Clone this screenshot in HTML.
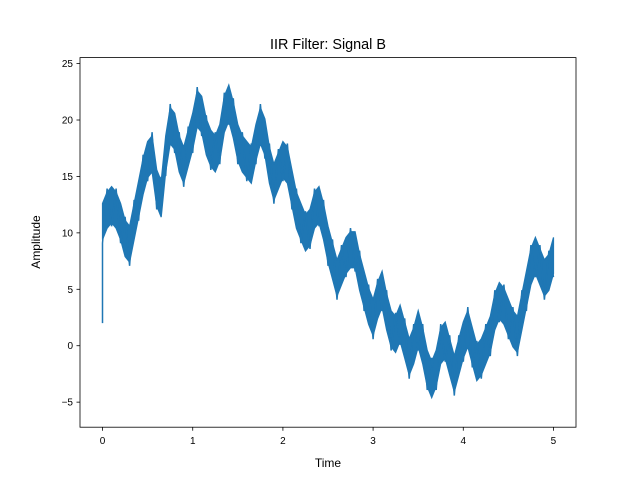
<!DOCTYPE html>
<html><head><meta charset="utf-8"><style>
body{margin:0;background:#fff}
svg{display:block;font-family:"Liberation Sans","DejaVu Sans",sans-serif}
</style></head><body>
<svg id="chart" width="640" height="480" viewBox="0 0 640 480">
<rect width="640" height="480" fill="#fff"/>
<text x="328" y="49" text-anchor="middle" font-size="14.4">IIR Filter: Signal B</text>
<g id="plot"></g>
<rect x="80" y="57.6" width="496" height="369.6" fill="none" stroke="#000" stroke-width="0.8"/>
<text x="328" y="467" text-anchor="middle" font-size="12">Time</text>
<text transform="translate(40,242) rotate(-90)" text-anchor="middle" font-size="12">Amplitude</text>
</svg>
<script>
const times = [];
const startValue = 2;
const values = [11,12,12.5,12,11,9.5,9,11,13,15,16.5,17,14,13,17,19.5,19,17,16,17.5,19,21,20.5,18.5,17.5,17,18,20.5,21.5,20,18,17,16.5,16,18,19.5,18.5,16,14.5,15.5,16.5,16,14,12,11,10,10.5,12,12.5,11,9,7.5,6,7,8,8.5,8.5,6.5,5,3.5,2.5,4,5,3,1.5,1,2,0.5,-1,0,1.5,0,-2,-3,-2,0,0.5,-1,-2.5,-1,0.5,1.5,0,-1.5,-1,0,1,3,4,3.5,2.5,1.5,1,3,5,7,8,7,6,6.5,8];
for (let i = 0; i < values.length; i++) times.push(i * 0.05);
const bandHalf = 1.6;
const xTicks = [0,1,2,3,4,5];
const yTicks = [-5,0,5,10,15,20,25];

const L=80,R=576,T=57.6,B=427.2;
const xMin=-0.25,xMax=5.25,yMin=-7.22,yMax=25.53;
const X=t=>L+(t-xMin)/(xMax-xMin)*(R-L);
const Y=v=>B-(v-yMin)/(yMax-yMin)*(B-T);
const NS='http://www.w3.org/2000/svg';
const svg=document.getElementById('chart');
const plot=document.getElementById('plot');

// band
let up=[],lo=[];
times.forEach((t,i)=>{up.push(X(t).toFixed(1)+','+Y(values[i]+bandHalf).toFixed(1));lo.unshift(X(t).toFixed(1)+','+Y(values[i]-bandHalf).toFixed(1));});
const band=document.createElementNS(NS,'polygon');
band.setAttribute('points',up.concat(lo).join(' '));
band.setAttribute('fill','#1f77b4');band.setAttribute('stroke','#1f77b4');band.setAttribute('stroke-width','1.2');


plot.appendChild(band);
// zigzag line
let pts=[X(0).toFixed(1)+','+Y(startValue).toFixed(1)];
times.forEach((t,i)=>{
  pts.push(X(t).toFixed(1)+','+Y(values[i]+(i%2?bandHalf:-bandHalf)*1.2).toFixed(1));
});
const line=document.createElementNS(NS,'polyline');
line.setAttribute('points',pts.join(' '));
line.setAttribute('fill','none');line.setAttribute('stroke','#1f77b4');line.setAttribute('stroke-width','1.5');


plot.appendChild(line);

xTicks.forEach(t=>{
  const g=document.createElementNS(NS,'g');
  
  
  const x=X(t);
  g.innerHTML=`<line x1="${x}" x2="${x}" y1="${B}" y2="${B+3.5}" stroke="#000" stroke-width="0.8"/><text x="${x}" y="${B+17}" text-anchor="middle" font-size="10">${t}</text>`;
  svg.appendChild(g);
});
yTicks.forEach(v=>{
  const g=document.createElementNS(NS,'g');
  
  
  const y=Y(v);
  g.innerHTML=`<line x1="${L-3.5}" x2="${L}" y1="${y}" y2="${y}" stroke="#000" stroke-width="0.8"/><text x="${L-7}" y="${y+3.5}" text-anchor="end" font-size="10">${v<0?'\u2212'+(-v):v}</text>`;
  svg.appendChild(g);
});
</script>
</body></html>
